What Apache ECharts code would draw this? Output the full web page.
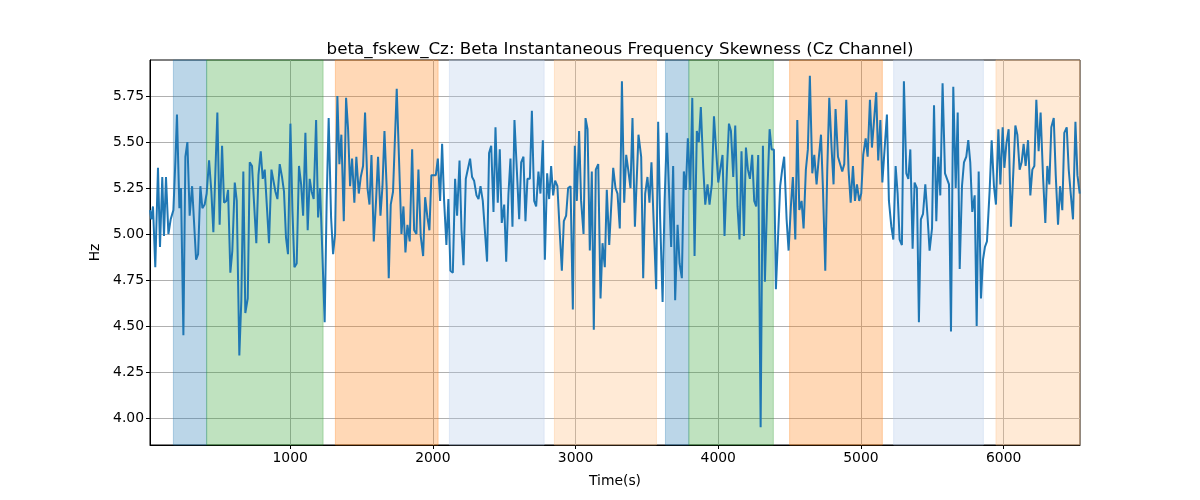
<!DOCTYPE html>
<html>
<head>
<meta charset="utf-8">
<script src="https://cdn.jsdelivr.net/npm/echarts@6/dist/echarts.min.js"></script>
<style>html,body{margin:0;padding:0;background:#fff}#c{width:1200px;height:500px}</style>
</head>
<body>
<div id="c"></div>
<script>
const titleText = 'beta_fskew_Cz: Beta Instantaneous Frequency Skewness (Cz Channel)';
const xName = 'Time(s)';
const yName = 'Hz';
const xTicks = [1000, 2000, 3000, 4000, 5000, 6000];
const yTicks = [4.00, 4.25, 4.50, 4.75, 5.00, 5.25, 5.50, 5.75];
const xRange = [18, 6535];
const yRange = [3.853, 5.946];

const times = [
18,27,39,55,74,88,104,116,130,147,163,182,196,207,224,235,252,266,280,296,313,327,341,355,371,385,401,415,432,448,462,476,490,506,523,537,553,565,581,595,612,626,644,658,672,686,703,717,733,747,763,778,794,808,822,836,852,869,
883,897,911,927,943,957,971,985,1002,1016,1030,1046,1062,1077,1091,1107,1123,1137,1151,1165,1182,1196,1210,1226,1242,1256,1270,1287,1301,1315,1331,1345,1359,1376,1392,1406,1420,1434,1450,1464,1481,1495,1511,1525,1542,1556,1570,1586,1602,1616,1633,1647,1661,1677,1691,1705,
1721,1747,1780,1794,1808,1822,1838,1855,1869,1885,1899,1915,1932,1946,1962,1976,1990,2004,2021,2035,2051,2065,2079,2095,2109,2123,2140,2156,2170,2187,2201,2215,2231,2245,2261,2275,2289,2306,2320,2334,2350,2364,2380,2394,2409,2425,2439,2455,2469,2483,2500,2514,2530,2544,2558,2572,2584,
2605,2619,2635,2649,2663,2680,2694,2710,2724,2740,2754,2771,2785,2801,2815,2829,2843,2857,2873,2888,2904,2918,2934,2948,2965,2981,2995,3009,3025,3039,3056,3070,3084,3100,3114,3128,3142,3159,3175,3189,3205,3219,3236,3250,3264,3280,3294,3310,3325,3341,3355,3369,3385,3399,3416,3441,
3460,3474,3488,3504,3518,3532,3549,3565,3579,3593,3610,3624,3640,3654,3670,3684,3698,3715,3729,3745,3759,3773,3787,3804,3818,3834,3850,3864,3878,3895,3909,3925,3939,3955,3970,3984,4000,4014,4030,4044,4061,4075,4089,4105,4119,4135,4149,4163,4180,4194,4208,4222,4238,4252,4266,4280,4297,
4313,4327,4343,4360,4374,4390,4404,4420,4434,4448,4462,4479,4493,4509,4523,4540,4554,4568,4584,4598,4614,4628,4642,4659,4673,4689,4703,4720,4734,4750,4764,4778,4794,4808,4822,4839,4853,4869,4883,4897,4913,4928,4944,4958,4972,4988,5002,5016,5033,5047,5063,5077,5091,5107,5121,5136,5150,
5182,5196,5213,5227,5243,5257,5271,5287,5301,5318,5332,5346,5362,5376,5392,5406,5420,5435,5451,5467,5481,5498,5512,5528,5542,5556,5572,5589,5603,5617,5631,5647,5664,5678,5692,5708,5722,5738,5752,5766,5780,5797,5811,5825,5841,5855,5869,5883,5902,5916,5932,5946,5963,5977,5993,6005,
6019,6035,6051,6082,6096,6112,6126,6140,6154,6171,6187,6201,6215,6229,6245,6259,6276,6292,6306,6320,6334,6351,6365,6381,6395,6411,6425,6442,6456,6470,6486,6503,6517,6533
];

const values = [
5.13,5.08,5.15,4.82,5.36,4.93,5.31,4.99,5.31,5.00,5.08,5.13,5.40,5.65,5.14,5.25,4.45,5.42,5.50,5.10,5.26,5.27,4.86,4.89,5.26,5.14,5.16,5.22,5.40,5.23,5.01,5.01,5.66,5.05,5.48,5.17,5.18,5.24,4.79,4.91,5.28,5.18,4.34,4.64,5.34,4.57,4.65,5.39,5.37,5.17,4.95,5.32,5.45,5.30,5.35,5.35,4.95,5.35,
5.35,5.23,5.19,5.38,5.31,5.23,4.98,4.89,5.60,5.13,4.82,4.84,5.37,5.27,5.10,5.55,5.02,5.30,5.23,5.19,5.62,5.09,5.25,4.89,4.52,5.18,5.63,5.09,4.89,5.00,5.75,5.38,5.54,5.07,5.74,5.57,5.26,5.41,5.17,5.42,5.22,5.31,5.37,5.66,5.25,5.16,5.43,4.96,5.18,5.42,5.10,5.26,5.56,5.24,4.76,5.16,
5.23,5.79,5.00,5.15,4.90,5.05,4.96,5.46,5.02,5.00,5.35,4.99,4.88,5.20,5.09,5.02,5.32,5.31,5.32,5.41,5.18,5.49,5.18,4.94,5.19,4.80,4.79,5.30,5.10,5.40,5.02,4.83,5.30,5.31,5.41,5.31,5.29,5.21,5.19,5.26,5.18,5.18,4.85,5.44,5.48,5.12,5.58,5.17,5.46,5.06,5.16,4.85,5.22,5.41,5.04,5.62,5.63,
5.08,5.39,5.42,5.07,5.30,5.30,5.67,5.18,5.15,5.34,5.22,5.51,4.86,5.33,5.19,5.37,5.21,5.29,5.26,5.03,4.80,5.07,5.10,5.25,5.26,4.59,5.48,5.18,5.56,5.18,5.00,5.63,5.57,4.91,5.34,4.48,5.35,5.38,4.65,4.95,4.82,5.24,4.94,4.95,5.36,5.25,5.22,5.03,5.83,5.17,5.43,5.35,5.25,5.63,5.04,5.54,
5.42,4.76,5.22,5.31,5.17,5.39,5.03,4.70,5.61,5.08,4.63,5.18,5.55,5.26,4.93,5.37,4.64,5.05,4.84,4.76,5.34,5.24,5.52,5.24,5.74,4.88,5.56,5.50,5.69,5.36,5.16,5.27,5.16,5.27,5.64,5.47,5.28,5.28,5.43,4.99,5.35,5.60,5.56,5.31,5.59,5.15,4.97,5.45,4.99,5.47,5.35,5.30,5.43,5.18,5.15,5.43,3.95,
5.48,4.74,5.20,5.57,5.46,5.46,4.70,5.00,5.26,5.35,5.42,5.08,4.91,5.15,5.31,4.97,5.62,5.13,5.18,5.03,5.35,5.46,5.86,5.33,5.43,5.27,5.40,5.54,5.24,4.80,5.35,5.74,5.47,5.27,5.68,5.42,5.41,5.34,5.38,5.73,5.35,5.17,5.37,5.18,5.27,5.18,5.22,5.43,5.52,5.42,5.73,5.47,5.47,5.77,5.40,5.62,5.28,
5.65,5.18,5.04,4.97,5.37,5.22,4.97,4.94,5.83,5.33,5.30,5.46,4.92,5.28,5.25,4.52,5.08,5.11,5.27,5.09,4.91,5.03,5.70,5.07,5.42,5.21,5.82,5.33,5.33,5.27,4.47,5.80,5.25,5.66,4.81,5.26,5.39,5.42,5.51,5.39,5.12,5.21,4.50,5.34,4.65,4.86,4.93,4.96,5.24,5.51,5.26,5.16,5.57,5.27,5.58,5.36,
5.49,5.57,5.04,5.59,5.54,5.35,5.39,5.49,5.37,5.51,5.21,5.35,5.37,5.73,5.45,5.66,5.31,5.06,5.37,5.27,5.58,5.63,5.32,5.05,5.26,5.13,5.55,5.58,5.35,5.22,5.08,5.61,5.32,5.22
];

const bandStarts = [182, 415, 1317, 2116, 2852, 3630, 3794, 4500, 5229, 5946];
const bandEnds   = [415, 1231, 2037, 2780, 3567, 3794, 4386, 5150, 5858, 6535];
const bandKinds  = ['blue', 'green', 'orange', 'lightblue', 'lightorange', 'blue', 'green', 'orange', 'lightblue', 'lightorange'];

const kindColor = {
  blue: 'rgba(31,119,180,0.3)',
  green: 'rgba(44,160,44,0.3)',
  orange: 'rgba(255,127,14,0.3)',
  lightblue: 'rgba(174,199,232,0.3)',
  lightorange: 'rgba(255,187,120,0.3)'
};

const lineData = times.map((t, i) => [t, values[i]]);
const areas = bandStarts.map((s, i) => [
  { xAxis: s, itemStyle: { color: kindColor[bandKinds[i]], borderColor: kindColor[bandKinds[i]], borderWidth: 1 } },
  { xAxis: bandEnds[i] }
]);

const font = 'DejaVu Sans';
const chart = echarts.init(document.getElementById('c'), null, { renderer: 'canvas' });
chart.setOption({
  animation: false,
  backgroundColor: '#fff',
  title: {
    text: titleText,
    left: 615,
    textAlign: 'center',
    top: 36,
    textStyle: { fontFamily: font, fontSize: 16.7, fontWeight: 'normal', color: '#000' }
  },
  grid: {
    left: 150, right: 120, top: 60, bottom: 55,
    show: true, borderColor: '#000', borderWidth: 1, backgroundColor: 'transparent'
  },
  xAxis: {
    type: 'value',
    min: xRange[0], max: xRange[1],
    name: xName, nameLocation: 'middle', nameGap: 29,
    nameTextStyle: { fontFamily: font, fontSize: 13.9, color: '#000' },
    axisLine: { show: true, onZero: false, lineStyle: { color: '#000', width: 1 } },
    axisTick: { show: true, length: 4, lineStyle: { color: '#000' }, customValues: xTicks },
    axisLabel: { fontFamily: font, fontSize: 13.9, color: '#000', margin: 6, customValues: xTicks,
                 formatter: v => String(v) },
    splitLine: { show: true, lineStyle: { color: '#b0b0b0', width: 1 } }
  },
  yAxis: {
    type: 'value',
    min: yRange[0], max: yRange[1],
    name: yName, nameLocation: 'middle', nameGap: 46, nameRotate: 90,
    nameTextStyle: { fontFamily: font, fontSize: 13.9, color: '#000' },
    axisLine: { show: true, onZero: false, lineStyle: { color: '#000', width: 1 } },
    axisTick: { show: true, length: 4, lineStyle: { color: '#000' }, customValues: yTicks },
    axisLabel: { fontFamily: font, fontSize: 13.9, color: '#000', margin: 6, customValues: yTicks,
                 formatter: v => Number(v).toFixed(2) },
    splitLine: { show: true, lineStyle: { color: '#b0b0b0', width: 1 } }
  },
  series: [{
    type: 'line',
    data: lineData,
    showSymbol: false,
    symbol: 'none',
    lineStyle: { color: '#1f77b4', width: 2 },
    itemStyle: { color: '#1f77b4' },
    clip: true,
    z: 3,
    markArea: { silent: true, data: areas, z: 1 }
  }]
});
</script>
</body>
</html>
